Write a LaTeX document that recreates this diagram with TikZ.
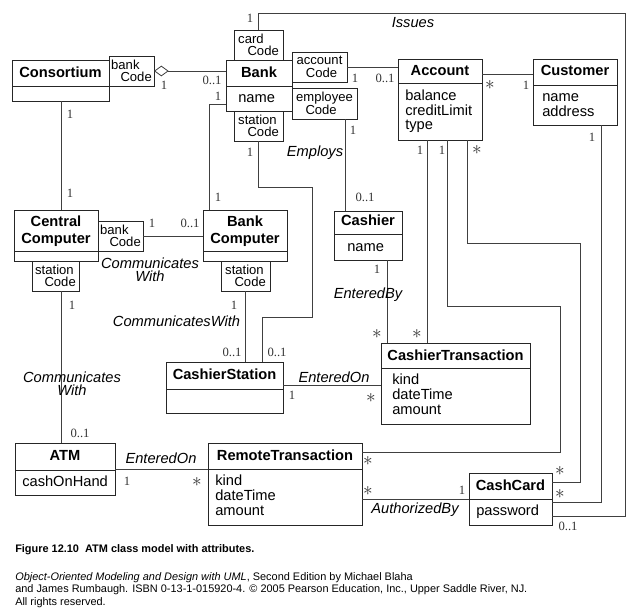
\documentclass[tikz,border=0pt]{standalone}
\usepackage{fontspec}
\setmainfont{Liberation Sans}
\newfontfamily\serifm{Liberation Serif}
\usetikzlibrary{fit,arrows.meta}
\begin{document}
\begin{tikzpicture}[x=0.75pt,y=-0.75pt,
  box/.style={draw=black!85, line width=0.6pt, inner sep=0pt, outer sep=0pt},
  ttl/.style={font=\fontsize{11}{13}\selectfont\bfseries, inner sep=0pt, anchor=base},
  att/.style={font=\fontsize{11}{11}\selectfont, inner sep=0pt, anchor=base west},
  qual/.style={font=\fontsize{9.8}{9.4}\selectfont, inner sep=0pt, align=left},
  mult/.style={font=\serifm\fontsize{9.5}{10}\selectfont, inner sep=0pt, text=black!80},
  star/.style={font=\fontsize{15}{15}\selectfont, inner sep=0pt, text=black!80},
  role/.style={font=\fontsize{11}{9.5}\selectfont\itshape, inner sep=0pt, align=center},
  conn/.style={draw=black!75, line width=0.6pt},
  capb/.style={font=\fontsize{8.2}{9}\selectfont\bfseries, inner sep=0pt, anchor=base west},
  capr/.style={font=\fontsize{8.2}{9}\selectfont, inner sep=0pt, anchor=base west},
]
\useasboundingbox (0,0) rectangle (638,611);
\fill[white] (0,0) rectangle (638,611);

% ---------- classes ----------
% Consortium
\node[box, fit={(12,60) (109,101)}] (cons) {};
\draw[box] (cons.west |- 0,86) -- (cons.east |- 0,86);
\node[ttl] (consT) at (60.5,77) {Consortium};
\node[box, fit={(109,56) (154,86)}] (consq) {};
\node[qual] (consqT) at (consq.center) {bank\\\hspace*{7pt}Code};

% Bank
\node[box, fit={(226,60) (292,111)}] (bank) {};
\draw[box] (bank.west |- 0,86) -- (bank.east |- 0,86);
\node[ttl] (bankT) at (259,77) {Bank};
\node[att] (bankA) at (238,102) {name};
\node[box, fit={(234,30) (283,60)}] (bankcq) {};
\node[qual] (bankcqT) at (bankcq.center) {card\\\hspace*{7pt}Code};
\node[box, fit={(234,111) (283,141)}] (banksq) {};
\node[qual] (banksqT) at (banksq.center) {station\\\hspace*{7pt}Code};
\node[box, fit={(292,52) (347,82)}] (bankaq) {};
\node[qual] (bankaqT) at (bankaq.center) {account\\\hspace*{7pt}Code};
\node[box, fit={(292,88) (357,119)}] (bankeq) {};
\node[qual] (bankeqT) at (bankeq.center) {employee\\\hspace*{7pt}Code};

% Account
\node[box, fit={(398,59) (482,140)}] (account) {};
\draw[box] (account.west |- 0,83) -- (account.east |- 0,83);
\node[ttl] (accountT) at (440,75.5) {Account};
\node[att] (accA1) at (405,100) {balance};
\node[att] (accA2) at (405,115) {creditLimit};
\node[att] (accA3) at (405,129.5) {type};

% Customer
\node[box, fit={(533,59) (617,125)}] (customer) {};
\draw[box] (customer.west |- 0,85) -- (customer.east |- 0,85);
\node[ttl] (customerT) at (575,75.5) {Customer};
\node[att] (cusA1) at (542,101) {name};
\node[att] (cusA2) at (542,116) {address};

% Cashier
\node[box, fit={(334,211) (402,260)}] (cashier) {};
\draw[box] (cashier.west |- 0,234) -- (cashier.east |- 0,234);
\node[ttl] (cashierT) at (368,225) {Cashier};
\node[att] (cashierA) at (347,251) {name};

% CashierTransaction
\node[box, fit={(381,343) (530,424)}] (ctr) {};
\draw[box] (ctr.west |- 0,368) -- (ctr.east |- 0,368);
\node[ttl] (ctrT) at (455.5,360) {CashierTransaction};
\node[att] (ctrA1) at (392,384) {kind};
\node[att] (ctrA2) at (392,399) {dateTime};
\node[att] (ctrA3) at (392,414) {amount};

% CashierStation
\node[box, fit={(166,362) (283,413)}] (cst) {};
\draw[box] (cst.west |- 0,389) -- (cst.east |- 0,389);
\node[ttl] (cstT) at (224.5,379) {CashierStation};

% Central Computer
\node[box, fit={(14,210) (98,261)}] (cc) {};
\draw[box] (cc.west |- 0,251) -- (cc.east |- 0,251);
\node[ttl] (ccT1) at (56,226) {Central};
\node[ttl] (ccT2) at (56,243) {Computer};
\node[box, fit={(98,221) (143,251)}] (ccbq) {};
\node[qual] (ccbqT) at (ccbq.center) {bank\\\hspace*{7pt}Code};
\node[box, fit={(32,261) (79,291)}] (ccsq) {};
\node[qual] (ccsqT) at (ccsq.center) {station\\\hspace*{7pt}Code};

% Bank Computer
\node[box, fit={(203,210) (287,261)}] (bc) {};
\draw[box] (bc.west |- 0,251) -- (bc.east |- 0,251);
\node[ttl] (bcT1) at (245,226) {Bank};
\node[ttl] (bcT2) at (245,243) {Computer};
\node[box, fit={(221,261) (270,291)}] (bcsq) {};
\node[qual] (bcsqT) at (bcsq.center) {station\\\hspace*{7pt}Code};

% ATM
\node[box, fit={(15,443) (115,495)}] (atm) {};
\draw[box] (atm.west |- 0,470) -- (atm.east |- 0,470);
\node[ttl] (atmT) at (65,460) {ATM};
\node[att] (atmA) at (22,486) {cashOnHand};

% RemoteTransaction
\node[box, fit={(208,443) (362,525)}] (rt) {};
\draw[box] (rt.west |- 0,469) -- (rt.east |- 0,469);
\node[ttl] (rtT) at (285,460) {RemoteTransaction};
\node[att] (rtA1) at (215,485) {kind};
\node[att] (rtA2) at (215,500) {dateTime};
\node[att] (rtA3) at (215,515) {amount};

% CashCard
\node[box, fit={(469,473) (552,525)}] (card) {};
\draw[box] (card.west |- 0,499) -- (card.east |- 0,499);
\node[ttl] (cardT) at (510.5,490) {CashCard};
\node[att] (cardA) at (476,515) {password};

% ---------- connectors ----------
\draw[conn, {Diamond[open,length=11pt,width=8pt]}-] (consq.east) -- (consq.east -| bank.west);
\coordinate (i1) at (625,13);
\coordinate (i2) at (625,516);
\draw[conn] (bankcq.north) |- (i1) -- (i2) -- (i2 -| card.east);
\draw[conn] (bankaq.east) -- (bankaq.east -| account.west);
\draw[conn] (account.east |- 0,74) -- (customer.west |- 0,74);
\coordinate (bn) at (209,104);
\draw[conn] (bn -| bank.west) -| (bn |- bc.north);
\draw[conn] (banksq.south) |- (312,187) |- (262,317) -- (262,317 |- cst.north);
\draw[conn] (345,0 |- bankeq.south) -- (345,0 |- cashier.north);
\draw[conn] (427,0 |- account.south) -- (427,0 |- ctr.north);
\draw[conn] (447,0 |- account.south) |- (560,306) |- (rt.east |- 0,452);
\draw[conn] (467,0 |- account.south) |- (580,243) |- (card.east |- 0,482);
\draw[conn] (601,0 |- customer.south) |- (card.east |- 0,502);
\draw[conn] (387,0 |- cashier.south) -- (387,0 |- ctr.north);
\draw[conn] (cst.east |- 0,385) -- (ctr.west |- 0,385);
\draw[conn] (61,0 |- cons.south) -- (61,0 |- cc.north);
\draw[conn] (ccbq.east) -- (ccbq.east -| bc.west);
\draw[conn] (bcsq.south) -- (bcsq.south |- cst.north);
\draw[conn] (61,0 |- ccsq.south) -- (61,0 |- atm.north);
\draw[conn] (atm.east |- 0,469) -- (rt.west |- 0,469);
\draw[conn] (rt.east |- 0,499) -- (card.west |- 0,499);

% ---------- multiplicities ----------
\node[mult] (m1) at (164,85) {1};
\node[mult] (m2) at (212,80) {0..1};
\node[mult] (m3) at (250,18) {1};
\node[mult] (m4) at (568,526) {0..1};
\node[mult] (m5) at (355,78) {1};
\node[mult] (m6) at (385,78) {0..1};
\node[star] (m7) at (490,85) {$\ast$};
\node[mult] (m8) at (526,85) {1};
\node[mult] (m9) at (218,96) {1};
\node[mult] (m10) at (218,197) {1};
\node[mult] (m11) at (250,152) {1};
\node[mult] (m12) at (277,352) {0..1};
\node[mult] (m13) at (353,130) {1};
\node[mult] (m14) at (365,197) {0..1};
\node[mult] (m15) at (420,150) {1};
\node[mult] (m16) at (442,150) {1};
\node[star] (m17) at (477,150) {$\ast$};
\node[star] (m18) at (417,334) {$\ast$};
\node[star] (m19) at (368,461) {$\ast$};
\node[star] (m20) at (560,471) {$\ast$};
\node[mult] (m21) at (592,137) {1};
\node[star] (m22) at (560,494) {$\ast$};
\node[mult] (m23) at (377,269) {1};
\node[star] (m24) at (377,334) {$\ast$};
\node[mult] (m25) at (292,395) {1};
\node[star] (m26) at (371,398) {$\ast$};
\node[mult] (m27) at (70,114) {1};
\node[mult] (m28) at (70,193) {1};
\node[mult] (m29) at (152,223) {1};
\node[mult] (m30) at (190,223) {0..1};
\node[mult] (m31) at (234,305) {1};
\node[mult] (m32) at (232,352) {0..1};
\node[mult] (m33) at (72,305) {1};
\node[mult] (m34) at (80,433) {0..1};
\node[mult] (m35) at (127,481) {1};
\node[star] (m36) at (197,482) {$\ast$};
\node[star] (m37) at (368,491) {$\ast$};
\node[mult] (m38) at (462,490) {1};

% ---------- association names ----------
\node[role] (r1) at (413,23) {Issues};
\node[role] (r2) at (315,153) {Employs};
\node[role] (r3) at (368,295) {EnteredBy};
\node[role] (r4) at (334,377) {EnteredOn};
\node[role] (r5) at (161,458) {EnteredOn};
\node[role] (r6) at (415,510) {AuthorizedBy};
\node[role] (r7) at (176.5,321) {CommunicatesWith};
\node[role] (r8) at (150,270) {Communicates\\With};
\node[role] (r9) at (72,384) {Communicates\\With};

% ---------- caption ----------
\node[capb] (cap1) at (15,552) {Figure 12.10\ \ ATM class model with attributes.};
\node[capr] (cap2) at (15,580) {\textit{Object-Oriented Modeling and Design with UML}, Second Edition by Michael Blaha};
\node[capr] (cap3) at (15,592.5) {and James Rumbaugh. ISBN 0-13-1-015920-4. © 2005 Pearson Education, Inc., Upper Saddle River, NJ.};
\node[capr] (cap4) at (15,605) {All rights reserved.};
\end{tikzpicture}
\end{document}
